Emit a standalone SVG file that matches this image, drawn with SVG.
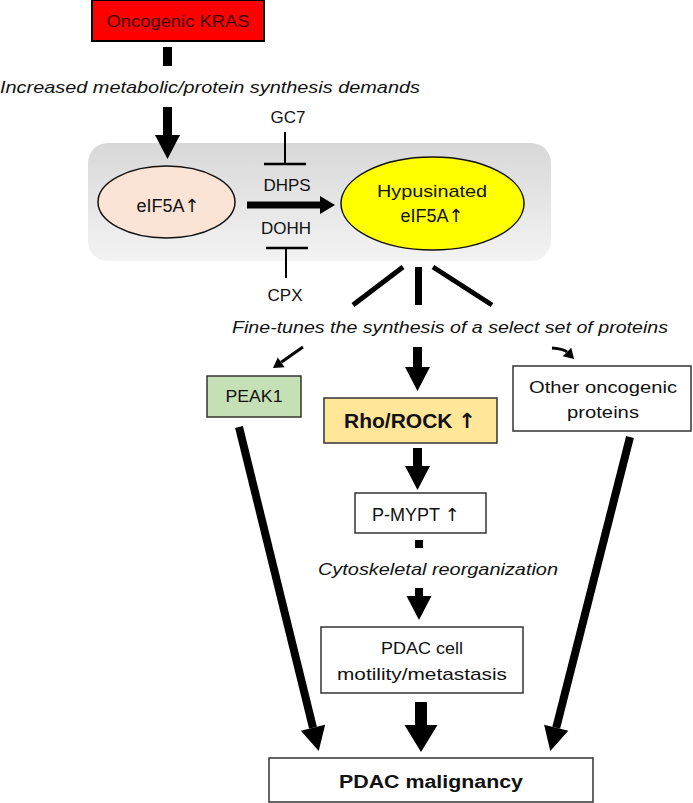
<svg xmlns="http://www.w3.org/2000/svg" width="693" height="803" viewBox="0 0 693 803">
<defs>
<style>
text{font-family:"Liberation Sans",Arial,sans-serif;font-size:17px;fill:#111;text-anchor:middle}
.it{font-style:italic}
.b{font-weight:bold}
.ar{font-family:"DejaVu Sans",sans-serif;font-weight:normal}
.box{stroke:#333;stroke-width:1.5}
.sh{stroke:#000;fill:none}
</style>
<linearGradient id="bg" x1="0" y1="0" x2="0" y2="1">
<stop offset="0" stop-color="#d8d8d8"/>
<stop offset="1" stop-color="#f3f3f3"/>
</linearGradient>
<marker id="h25" markerUnits="userSpaceOnUse" viewBox="0 -13 25 26" markerWidth="25" markerHeight="26" refX="0" refY="0" orient="auto" overflow="visible">
<path d="M0,-12.5 L24,0 L0,12.5 Z" fill="#000"/>
</marker>
<marker id="h33" markerUnits="userSpaceOnUse" viewBox="0 -17 28 34" markerWidth="28" markerHeight="34" refX="0" refY="0" orient="auto" overflow="visible">
<path d="M0,-16.5 L27,0 L0,16.5 Z" fill="#000"/>
</marker>
<marker id="h18" markerUnits="userSpaceOnUse" viewBox="0 -9 15 18" markerWidth="15" markerHeight="18" refX="0" refY="0" orient="auto" overflow="visible">
<path d="M0,-9 L15,0 L0,9 Z" fill="#000"/>
</marker>
<marker id="hs" markerUnits="userSpaceOnUse" viewBox="0 -6 10 12" markerWidth="10" markerHeight="12" refX="0" refY="0" orient="auto" overflow="visible">
<path d="M0,-6 L10,0 L0,6 Z" fill="#000"/>
</marker>
</defs>

<g id="background">
<rect x="88" y="143" width="463" height="118" rx="20" ry="20" fill="url(#bg)"/>
</g>

<g id="kras">
<rect x="92" y="0" width="172" height="41" fill="#ff0000" stroke="#000" stroke-width="2"/>
<text x="178" y="27" textLength="143" lengthAdjust="spacingAndGlyphs" style="fill:#3a0505">Oncogenic KRAS</text>
</g>

<g id="labels">
<text class="it" x="210" y="93" textLength="420" lengthAdjust="spacingAndGlyphs">Increased metabolic/protein synthesis demands</text>
<text x="288" y="123">GC7</text>
<text x="287" y="191">DHPS</text>
<text x="286" y="234">DOHH</text>
<text x="285" y="301">CPX</text>
<text class="it" x="450" y="333" textLength="436" lengthAdjust="spacingAndGlyphs">Fine-tunes the synthesis of a select set of proteins</text>
<text class="it" x="438" y="575" textLength="240" lengthAdjust="spacingAndGlyphs">Cytoskeletal reorganization</text>
</g>

<g id="eif5a">
<ellipse cx="166.5" cy="202" rx="68.5" ry="36" fill="#fbe3d6" stroke="#111" stroke-width="1.5"/>
<text x="168" y="212" style="font-size:18px">eIF5A<tspan class="ar">↑</tspan></text>
</g>

<g id="hypusinated">
<ellipse cx="432.5" cy="203.5" rx="91.5" ry="46.5" fill="#ffff00" stroke="#111" stroke-width="1.5"/>
<text x="432" y="197" textLength="110" lengthAdjust="spacingAndGlyphs">Hypusinated</text>
<text x="432" y="222" style="font-size:18px">eIF5A<tspan class="ar">↑</tspan></text>
</g>

<g id="peak1">
<rect x="207" y="376" width="94" height="41" fill="#c5e0b4" class="box"/>
<text x="254" y="402" textLength="57" lengthAdjust="spacingAndGlyphs">PEAK1</text>
</g>

<g id="rho-rock">
<rect x="324" y="398" width="173" height="45" fill="#ffe699" class="box"/>
<text class="b" x="410" y="428" style="font-size:21px">Rho/ROCK <tspan class="ar" style="font-weight:bold">↑</tspan></text>
</g>

<g id="other">
<rect x="513" y="366" width="178" height="65" fill="#fff" class="box"/>
<text x="603" y="393" textLength="148" lengthAdjust="spacingAndGlyphs">Other oncogenic</text>
<text x="603" y="418" textLength="72" lengthAdjust="spacingAndGlyphs">proteins</text>
</g>

<g id="p-mypt">
<rect x="355" y="493" width="131" height="40" fill="#fff" class="box"/>
<text x="416" y="521" style="font-size:18px">P-MYPT <tspan class="ar">↑</tspan></text>
</g>

<g id="pdac-cell">
<rect x="321" y="627" width="202" height="66" fill="#fff" class="box"/>
<text x="422" y="654" textLength="82" lengthAdjust="spacingAndGlyphs">PDAC cell</text>
<text x="422" y="680" textLength="170" lengthAdjust="spacingAndGlyphs">motility/metastasis</text>
</g>

<g id="pdac-malignancy">
<rect x="269" y="758" width="324" height="44" fill="#fff" class="box"/>
<text class="b" x="431" y="788" style="font-size:18px" textLength="184" lengthAdjust="spacingAndGlyphs">PDAC malignancy</text>
</g>

<g id="connectors">
<line class="sh" x1="167.5" y1="47" x2="167.5" y2="66" stroke-width="9"/>
<line class="sh" x1="167.5" y1="107" x2="167.5" y2="135" stroke-width="9" marker-end="url(#h25)"/>
<line class="sh" x1="247" y1="205" x2="320" y2="205" stroke-width="7" marker-end="url(#h18)"/>
<line class="sh" x1="285" y1="132" x2="285" y2="164" stroke-width="2"/>
<line class="sh" x1="264" y1="164" x2="306" y2="164" stroke-width="2.5"/>
<line class="sh" x1="266" y1="248" x2="308" y2="248" stroke-width="2.5"/>
<line class="sh" x1="286" y1="248" x2="286" y2="278" stroke-width="2"/>
<line class="sh" x1="403" y1="267" x2="353" y2="305" stroke-width="5"/>
<line class="sh" x1="418.5" y1="267" x2="418.5" y2="305" stroke-width="7"/>
<line class="sh" x1="433" y1="267" x2="492" y2="305" stroke-width="5"/>
<line class="sh" x1="303" y1="347" x2="281.2" y2="362.3" stroke-width="3" marker-end="url(#hs)"/>
<line class="sh" x1="417.5" y1="347" x2="417.5" y2="367" stroke-width="9" marker-end="url(#h25)"/>
<path class="sh" d="M552,348 Q564,349 567,352" stroke-width="3" marker-end="url(#hs)"/>
<line class="sh" x1="417.5" y1="448" x2="417.5" y2="466" stroke-width="9" marker-end="url(#h25)"/>
<line class="sh" x1="419" y1="540" x2="419" y2="548" stroke-width="8"/>
<line class="sh" x1="419" y1="588" x2="419" y2="596" stroke-width="8" marker-end="url(#h25)"/>
<line class="sh" x1="421" y1="702" x2="421" y2="725" stroke-width="12" marker-end="url(#h33)"/>
<line class="sh" x1="239" y1="427" x2="313" y2="727.7" stroke-width="8" marker-end="url(#h25)"/>
<line class="sh" x1="630" y1="437" x2="556.2" y2="727.8" stroke-width="8" marker-end="url(#h25)"/>
</g>
</svg>
